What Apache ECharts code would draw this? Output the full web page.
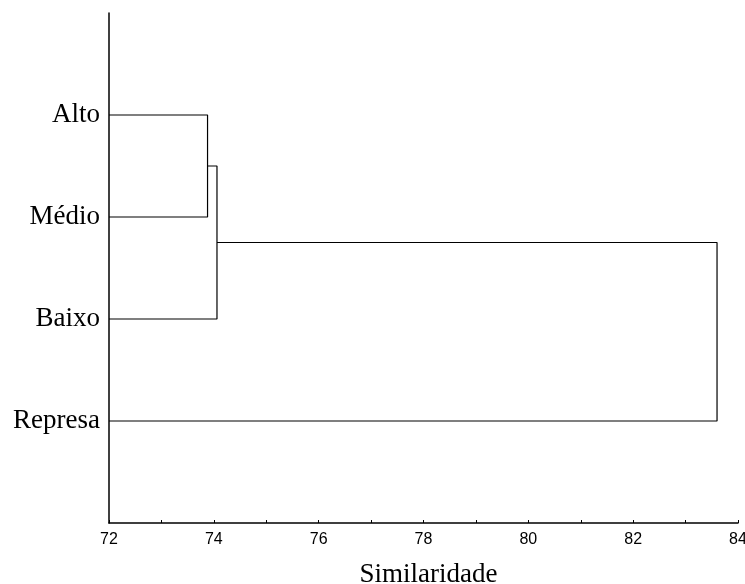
<!DOCTYPE html>
<html>
<head>
<meta charset="utf-8">
<script src="https://cdn.jsdelivr.net/npm/echarts@6/dist/echarts.min.js"></script>
<style>
  html, body { margin: 0; padding: 0; background: #fff; overflow: hidden; }
  #chart { width: 745px; height: 584px; }
</style>
</head>
<body>
<div id="chart"></div>
<script>
// Leaves of the dendrogram, top to bottom
const leaves = ['Alto', 'Médio', 'Baixo', 'Represa'];
// Similarity at which each cluster joins: [left member, right member, level]
// members are leaf indices (>= 0) or earlier merge indices encoded as -(k+1)
const merges = [
  [0, 1, 73.88],     // Alto + Médio
  [-1, 2, 74.06],    // (Alto, Médio) + Baixo
  [-2, 3, 83.60]     // (Alto, Médio, Baixo) + Represa
];
// x-axis range and tick step
const xMin = 72, xMax = 84, xStep = 2;

// Vertical position of each leaf on the value y-axis (top leaf highest)
const leafY = leaves.map((_, i) => leaves.length - i);
const axisXStart = xMin;

// Resolve a member to its [x, y] attach point
const mergePos = [];
function memberPos(m) {
  if (m >= 0) return [axisXStart, leafY[m]];
  return mergePos[-m - 1];
}

// Build the link segments (elbow lines) from the merge table
const segments = [];
merges.forEach(([a, b, level]) => {
  const pa = memberPos(a), pb = memberPos(b);
  segments.push([[pa[0], pa[1]], [level, pa[1]], [level, pb[1]], [pb[0], pb[1]]]);
  mergePos.push([level, (pa[1] + pb[1]) / 2]);
});

const series = segments.map(seg => ({
  type: 'line',
  data: seg,
  symbol: 'none',
  silent: true,
  animation: false,
  lineStyle: { color: '#000', width: 1.2 }
}));

const chart = echarts.init(document.getElementById('chart'), null, { renderer: 'canvas' });
chart.setOption({
  animation: false,
  backgroundColor: '#fff',
  grid: { left: 109, right: 7, top: 13, bottom: 61, containLabel: false, outerBoundsMode: 'none' },
  xAxis: {
    type: 'value',
    min: xMin, max: xMax, interval: xStep,
    name: 'Similaridade',
    nameLocation: 'middle',
    nameGap: 38,
    nameTextStyle: { fontFamily: 'Liberation Serif', fontSize: 27, color: '#000', padding: [0, 0, 0, 10] },
    axisLine: { show: true, lineStyle: { color: '#000', width: 1.5 } },
    axisTick: { show: true, inside: true, length: 3, lineStyle: { color: '#000' } },
    minorTick: { show: true, splitNumber: 2, length: 3, lineStyle: { color: '#000' } },
    splitLine: { show: false },
    axisLabel: { fontFamily: 'Liberation Sans', fontSize: 16, color: '#000', margin: 9 }
  },
  yAxis: {
    type: 'value',
    min: 0, max: leaves.length + 1, interval: 1,
    axisLine: { show: true, lineStyle: { color: '#000', width: 1.5 } },
    axisTick: { show: false },
    splitLine: { show: false },
    axisLabel: {
      fontFamily: 'Liberation Serif', fontSize: 27, color: '#000', margin: 9,
      formatter: v => {
        const i = leaves.length - v;
        return (i >= 0 && i < leaves.length && v > 0) ? leaves[i] : '';
      }
    }
  },
  series: series
});
</script>
</body>
</html>
